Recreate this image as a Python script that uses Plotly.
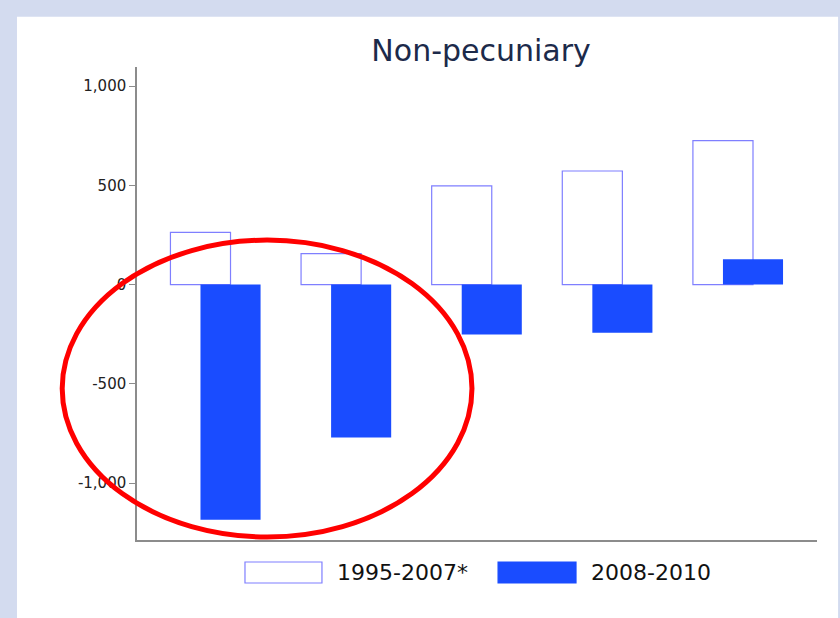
import plotly.graph_objects as go

# data
groups = ['G1', 'G2', 'G3', 'G4', 'G5']
series_names = ['1995-2007*', '2008-2010']
values_1995_2007 = [263, 156, 497, 572, 725]
values_2008_2010 = [-1185, -771, -252, -243, 127]
ytick_vals = [-1000, -500, 0, 500, 1000]
ytick_text = ['-1,000', '-500', '0', '500', '1,000']

fill_blue = '#1a4cff'
outline_blue = '#7f7fff'

fig = go.Figure()

# outlined bars (earlier period)
fig.add_trace(go.Bar(
    x=groups,
    y=values_1995_2007,
    name=series_names[0],
    width=0.46,
    offset=-0.345,
    marker=dict(color='white', line=dict(color=outline_blue, width=1.2)),
    showlegend=False
))

# filled bars (2008-2010)
fig.add_trace(go.Bar(
    x=groups,
    y=values_2008_2010,
    name=series_names[1],
    width=0.46,
    offset=-0.115,
    marker=dict(color=fill_blue, line=dict(color=fill_blue, width=0)),
    showlegend=False
))

# white panel over the bluish slide background
fig.add_shape(type='rect', xref='paper', yref='paper',
              x0=-0.1765, x1=1.031, y0=-0.165, y1=1.106,
              fillcolor='white', line=dict(width=0), layer='below')

# red ellipse highlighting the first two groups
fig.add_shape(type='circle', xref='paper', yref='paper',
              x0=-0.110, x1=0.4926, y0=0.0063, y1=0.634,
              line=dict(color='#ff0000', width=5), layer='above')

# hand-made legend (plotly's bar swatches are too small)
legend_boxes = [
    dict(x0=0.1588, x1=0.272, fill='white', line=outline_blue, tx=0.291),
    dict(x0=0.531, x1=0.6456, fill=fill_blue, line=fill_blue, tx=0.6647),
]
for name, box in zip(series_names, legend_boxes):
    fig.add_shape(type='rect', xref='paper', yref='paper',
                  x0=box['x0'], x1=box['x1'], y0=-0.0909, y1=-0.0465,
                  fillcolor=box['fill'], line=dict(color=box['line'], width=1.2))
    fig.add_annotation(x=box['tx'], y=-0.0687, xref='paper', yref='paper',
                       text=name, showarrow=False, xanchor='left', yanchor='middle',
                       font=dict(size=22, color='#111111'))

fig.update_layout(
    width=840,
    height=618,
    barmode='overlay',
    paper_bgcolor='#d3dbef',
    plot_bgcolor='white',
    margin=dict(l=137, r=23, t=67, b=78),
    font=dict(family='DejaVu Sans', color='#222222'),
    title=dict(text='Non-pecuniary', x=0.506, xref='paper', xanchor='center',
               y=0.919, yref='container', yanchor='middle',
               font=dict(size=30, color='#1c2a4a')),
)

fig.update_xaxes(
    range=[-0.601, 4.605],
    showticklabels=False,
    ticks='',
    showgrid=False,
    zeroline=False,
    showline=True,
    linecolor='#8c8c8c',
    linewidth=1.5
)

fig.update_yaxes(
    range=[-1287, 1096],
    tickvals=ytick_vals,
    ticktext=ytick_text,
    ticks='outside',
    ticklen=6,
    tickcolor='#8c8c8c',
    tickfont=dict(size=15, color='#222222'),
    showgrid=False,
    zeroline=False,
    showline=True,
    linecolor='#8c8c8c',
    linewidth=1.5
)

# drop the browser's default body margin so the figure sits at 0,0
fig.write_html("out.html", config={'displayModeBar': False},
               post_script="document.body.style.margin='0';")
